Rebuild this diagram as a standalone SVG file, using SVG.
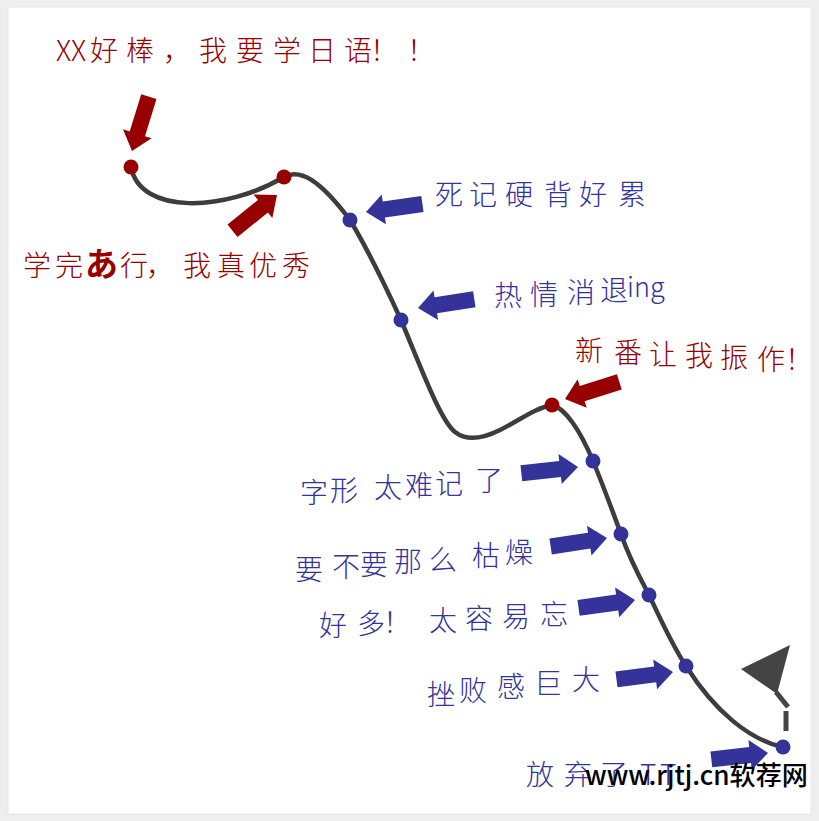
<svg xmlns="http://www.w3.org/2000/svg" width="819" height="821" viewBox="0 0 819 821">
<defs>
<style>
.red{fill:#960000}
.blue{fill:#333399}
.t{font-family:"Noto Sans CJK SC","Noto Sans",sans-serif;font-size:28px;font-weight:300}
.tr{fill:#960000}
.tb{fill:#333399}
.curve{fill:none;stroke:#3c3c3c;stroke-width:4.5;stroke-linecap:round}
</style>
<filter id="soft" x="-5%" y="-5%" width="110%" height="110%"><feGaussianBlur stdDeviation="0.6"/></filter>
<path id="arr" d="M-57,-8 L-18,-8 L-18,-15 L0,0 L-18,15 L-18,8 L-57,8 Z"/>
</defs>
<rect x="0" y="0" width="819" height="821" fill="#eeeeee"/>
<rect x="8" y="7" width="803" height="807" fill="#ffffff" stroke="#e6e6e6" stroke-width="1"/>

<g id="connectors">
<path class="curve" filter="url(#soft)" d="M131,167 C140,215 225,212 284,177 C300,168 320,180 350,220 C365,245 385,285 401,320 C420,365 440,420 455,432 C465,440 480,440 500,430 C520,420 535,408 552,405 C565,408 580,430 593,461 C605,490 612,510 621,534 C630,560 640,578 649,595 C662,622 672,645 686,666 C715,712 750,740 783,747"/>
</g>

<g id="n-start">
<circle class="red" cx="131" cy="167" r="7.5"/>
<use href="#arr" class="red" transform="translate(132,151) rotate(107.2)"/>
<text class="t tr" x="56 71 90 126 163 199 236 273 308 344 370 407" y="61">XX好棒，我要学日语！！</text>
</g>

<g id="n-kana">
<circle class="red" cx="284" cy="177" r="7.5"/>
<use href="#arr" class="red" transform="translate(277,195) rotate(-38.7)"/>
<text class="t tr" y="276"><tspan x="23">学</tspan><tspan x="55">完</tspan><tspan x="85" font-size="33" font-weight="700">あ</tspan><tspan x="120">行</tspan><tspan x="146">，</tspan><tspan x="183">我</tspan><tspan x="217">真</tspan><tspan x="249">优</tspan><tspan x="282">秀</tspan></text>
</g>

<g id="n-rote">
<circle class="blue" cx="350" cy="220" r="7.5"/>
<use href="#arr" class="blue" transform="translate(366,212) rotate(171.9)"/>
<text class="t tb" x="435 469 505 544 579 618" y="205">死记硬背好累</text>
</g>

<g id="n-fade">
<circle class="blue" cx="401" cy="320" r="7.5"/>
<use href="#arr" class="blue" transform="translate(418,308) rotate(171.2)"/>
<text class="t tb"><tspan x="494 530 567 600" y="306 305 303 301">热情消退</tspan><tspan x="627" y="297" font-size="27">ing</tspan></text>
</g>

<g id="n-anime">
<circle class="red" cx="552" cy="405" r="7.5"/>
<use href="#arr" class="red" transform="translate(565,399) rotate(162.4)"/>
<text class="t tr" x="575 614 649 685 720 757 785" y="361 363 365 366 368 370 370">新番让我振作！</text>
</g>

<g id="n-kanji">
<circle class="blue" cx="593" cy="461" r="7.5"/>
<use href="#arr" class="blue" transform="translate(578,467) rotate(-6.3)"/>
<text class="t tb" x="300 330 374 405 435 475" y="503 501 498 496 494 491">字形太难记了</text>
</g>

<g id="n-dull">
<circle class="blue" cx="621" cy="534" r="7.5"/>
<use href="#arr" class="blue" transform="translate(607,538) rotate(-8.6)"/>
<text class="t tb" x="295 332 360 394 429 472 505" y="580 577 575 572 570 566 563">要不要那么枯燥</text>
</g>

<g id="n-forget">
<circle class="blue" cx="649" cy="595" r="7.5"/>
<use href="#arr" class="blue" transform="translate(635,600) rotate(-7.9)"/>
<text class="t tb" x="319 357 383 429 465 502 540" y="636 634 633 631 629 627 625">好多！太容易忘</text>
</g>

<g id="n-frustrate">
<circle class="blue" cx="686" cy="666" r="7.5"/>
<use href="#arr" class="blue" transform="translate(673,672) rotate(-7.5)"/>
<text class="t tb" x="427 459 497 534 572" y="705 701 697 694 690">挫败感巨大</text>
</g>

<g id="n-giveup">
<circle class="blue" cx="783" cy="747" r="7.5"/>
<use href="#arr" class="blue" transform="translate(768,753) rotate(-6.4)"/>
<text class="t tb" x="526 564 600 640 660" y="785">放弃了TT</text>
</g>

<g id="flag" fill="#444444">
<polygon points="790,645 741,669 777,694"/>
<line x1="776" y1="692" x2="788" y2="707" stroke="#444444" stroke-width="5"/>
<rect x="783.5" y="711" width="5" height="20"/>
</g>

<text x="585" y="785" font-family="'Noto Sans CJK SC','Noto Sans',sans-serif" font-size="26" font-weight="500" fill="#000000" textLength="223" lengthAdjust="spacingAndGlyphs">www.rjtj.cn软荐网</text>
</svg>
